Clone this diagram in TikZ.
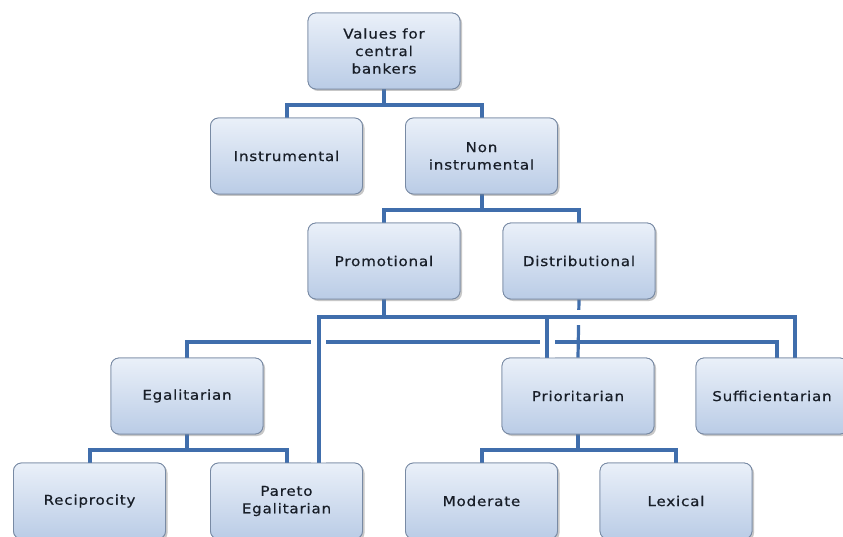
\documentclass[tikz,border=0pt]{standalone}
\usepackage{fontspec}
\setmainfont{DejaVu Sans}[FakeStretch=1.12,LetterSpace=6,FakeBold=0.6]
\usetikzlibrary{shadows}
\definecolor{linec}{RGB}{64,110,172}
\definecolor{boxtop}{RGB}{234,240,249}
\definecolor{boxbot}{RGB}{186,204,230}
\definecolor{boxedge}{RGB}{120,138,164}
\definecolor{txt}{RGB}{24,30,40}
\begin{document}
\begin{tikzpicture}[x=1pt,y=-1pt,
  box/.style={rectangle, rounded corners=8pt, draw=boxedge, line width=0.8pt,
    top color=boxtop, bottom color=boxbot, minimum width=152pt, minimum height=76pt,
    align=center, font=\fontsize{13.5}{17.5}\selectfont, text=txt,
    drop shadow={opacity=0.25, shadow xshift=2pt, shadow yshift=-2pt}},
  conA/.style={draw=linec, line width=4pt, line join=miter},
  conB/.style={draw=linec, line width=3.2pt, line join=miter},
  halo/.style={draw=white, line width=15pt}]
\useasboundingbox (0,0) rectangle (843,537);
\clip (0,0) rectangle (843,537);

% nodes (placed first, redrawn on top of the connectors later)
\path
  (384,51)    node[box] (vals)   {Values for\\central\\bankers}
  (286.5,156) node[box] (instr)  {Instrumental}
  (481.5,156) node[box] (nonin)  {Non\\instrumental}
  (384,261)   node[box] (promo)  {Promotional}
  (579,261)   node[box] (distr)  {Distributional}
  (187,396)   node[box] (egal)   {Egalitarian}
  (578,396)   node[box] (prio)   {Prioritarian}
  (772,396)   node[box] (suff)   {Sufficientarian}
  (89.5,501)  node[box] (recip)  {Reciprocity}
  (286.5,501) node[box] (pareto) {Pareto\\Egalitarian}
  (481.5,501) node[box] (moder)  {Moderate}
  (676,501)   node[box] (lexic)  {Lexical};

\coordinate (h0) at (0,105);
\coordinate (h1) at (0,210);
\coordinate (h2) at (0,342);
\coordinate (hp) at (0,317);
\coordinate (h3) at (0,450);
\coordinate (pA) at ([xshift=32pt]pareto.north);
\coordinate (pB) at ([xshift=-31pt]prio.north);
\coordinate (pC) at ([xshift=23pt]suff.north);
\coordinate (dC) at ([xshift=5pt]suff.north);

% distributional tree (thin)
\draw[conB] (egal.north) -- (egal.north |- h2) -- (dC |- h2) -- (dC);
\draw[conB] (distr.south) -- (prio.north);
% white gaps where the promotional tree crosses
\draw[halo] (pA) -- (pA |- hp) -- (pC |- hp);
\draw[halo] (pB) -- (pB |- hp);
% promotional tree (thick)
\draw[conA] (pA) -- (pA |- hp) -- (pC |- hp) -- (pC);
\draw[conA] (pB) -- (pB |- hp);
\draw[conA] (promo.south) -- (promo.south |- hp);

% upper levels
\draw[conA] (instr.north) -- (instr.north |- h0) -- (nonin.north |- h0) -- (nonin.north);
\draw[conA] (vals.south) -- (vals.south |- h0);
\draw[conA] (promo.north) -- (promo.north |- h1) -- (distr.north |- h1) -- (distr.north);
\draw[conA] (nonin.south) -- (nonin.south |- h1);

% lower levels
\draw[conA] (recip.north) -- (recip.north |- h3) -- (pareto.north |- h3) -- (pareto.north);
\draw[conA] (egal.south) -- (egal.south |- h3);
\draw[conA] (moder.north) -- (moder.north |- h3) -- (lexic.north |- h3) -- (lexic.north);
\draw[conA] (prio.south) -- (prio.south |- h3);

% boxes on top of the connectors
\path
  (384,51)    node[box] {Values for\\central\\bankers}
  (286.5,156) node[box] {Instrumental}
  (481.5,156) node[box] {Non\\instrumental}
  (384,261)   node[box] {Promotional}
  (579,261)   node[box] {Distributional}
  (187,396)   node[box] {Egalitarian}
  (578,396)   node[box] {Prioritarian}
  (772,396)   node[box] {Sufficientarian}
  (89.5,501)  node[box] {Reciprocity}
  (286.5,501) node[box] {Pareto\\Egalitarian}
  (481.5,501) node[box] {Moderate}
  (676,501)   node[box] {Lexical};
\end{tikzpicture}
\end{document}
